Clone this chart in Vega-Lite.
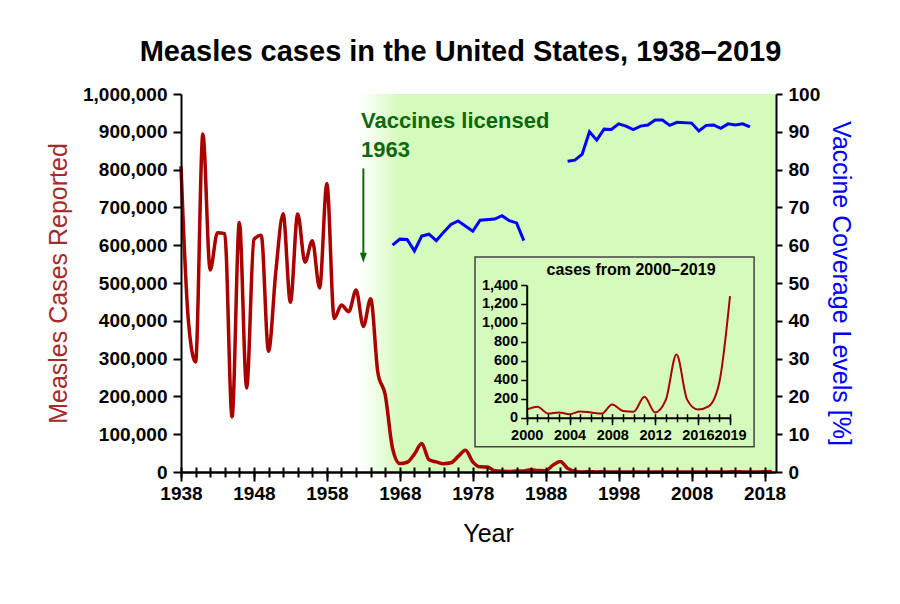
{
  "$schema": "https://vega.github.io/schema/vega-lite/v6.json",
  "width": 595,
  "height": 378,
  "autosize": "none",
  "padding": {"left": 181, "top": 94, "right": 124, "bottom": 132},
  "background": "white",
  "title": {"text": "Measles cases in the United States, 1938–2019", "fontSize": 29, "fontWeight": "bold", "font": "Liberation Sans", "color": "black", "anchor": "middle", "frame": "group", "baseline": "alphabetic", "offset": -5, "dx": -18},
  "config": {
    "view": {"stroke": null},
    "font": "Liberation Sans",
    "axis": {"domainColor": "black", "domainWidth": 2, "tickColor": "black", "tickWidth": 2, "labelColor": "black", "labelFont": "Liberation Sans", "labelFontWeight": "bold", "grid": false, "labelOverlap": false, "labelFlush": false, "labelBound": false, "titleFont": "Liberation Sans"}
  },
  "datasets": {
    "measles": [
      {"Year": 1938, "Cases": 808908}, {"Year": 1939, "Cases": 403317}, {"Year": 1940, "Cases": 291162}, {"Year": 1941, "Cases": 894134},
      {"Year": 1942, "Cases": 534514}, {"Year": 1943, "Cases": 633161}, {"Year": 1944, "Cases": 630291}, {"Year": 1945, "Cases": 146013},
      {"Year": 1946, "Cases": 659843}, {"Year": 1947, "Cases": 222375}, {"Year": 1948, "Cases": 615104}, {"Year": 1949, "Cases": 626281},
      {"Year": 1950, "Cases": 319124}, {"Year": 1951, "Cases": 530118}, {"Year": 1952, "Cases": 683077}, {"Year": 1953, "Cases": 449146},
      {"Year": 1954, "Cases": 682720}, {"Year": 1955, "Cases": 555156}, {"Year": 1956, "Cases": 611936}, {"Year": 1957, "Cases": 486799},
      {"Year": 1958, "Cases": 763094}, {"Year": 1959, "Cases": 406162}, {"Year": 1960, "Cases": 441703}, {"Year": 1961, "Cases": 423919},
      {"Year": 1962, "Cases": 481530}, {"Year": 1963, "Cases": 385156}, {"Year": 1964, "Cases": 458083}, {"Year": 1965, "Cases": 261904},
      {"Year": 1966, "Cases": 204136}, {"Year": 1967, "Cases": 62705}, {"Year": 1968, "Cases": 22231}, {"Year": 1969, "Cases": 25826},
      {"Year": 1970, "Cases": 47351}, {"Year": 1971, "Cases": 75290}, {"Year": 1972, "Cases": 32275}, {"Year": 1973, "Cases": 26690},
      {"Year": 1974, "Cases": 22094}, {"Year": 1975, "Cases": 24374}, {"Year": 1976, "Cases": 41126}, {"Year": 1977, "Cases": 57345},
      {"Year": 1978, "Cases": 26871}, {"Year": 1979, "Cases": 13597}, {"Year": 1980, "Cases": 13506}, {"Year": 1981, "Cases": 3124},
      {"Year": 1982, "Cases": 1714}, {"Year": 1983, "Cases": 1497}, {"Year": 1984, "Cases": 2587}, {"Year": 1985, "Cases": 2822},
      {"Year": 1986, "Cases": 6282}, {"Year": 1987, "Cases": 3655}, {"Year": 1988, "Cases": 3396}, {"Year": 1989, "Cases": 18193},
      {"Year": 1990, "Cases": 27786}, {"Year": 1991, "Cases": 9643}, {"Year": 1992, "Cases": 2237}, {"Year": 1993, "Cases": 312},
      {"Year": 1994, "Cases": 963}, {"Year": 1995, "Cases": 309}, {"Year": 1996, "Cases": 508}, {"Year": 1997, "Cases": 138},
      {"Year": 1998, "Cases": 100}, {"Year": 1999, "Cases": 100}, {"Year": 2000, "Cases": 86}, {"Year": 2001, "Cases": 116},
      {"Year": 2002, "Cases": 44}, {"Year": 2003, "Cases": 56}, {"Year": 2004, "Cases": 37}, {"Year": 2005, "Cases": 66},
      {"Year": 2006, "Cases": 55}, {"Year": 2007, "Cases": 43}, {"Year": 2008, "Cases": 140}, {"Year": 2009, "Cases": 71},
      {"Year": 2010, "Cases": 63}, {"Year": 2011, "Cases": 220}, {"Year": 2012, "Cases": 55}, {"Year": 2013, "Cases": 187},
      {"Year": 2014, "Cases": 667}, {"Year": 2015, "Cases": 188}, {"Year": 2016, "Cases": 86}, {"Year": 2017, "Cases": 120},
      {"Year": 2018, "Cases": 372}, {"Year": 2019, "Cases": 1282}
    ],
    "coverage": [
      {"Year": 1967, "Coverage": 60.0, "Period": "A"}, {"Year": 1968, "Coverage": 61.6, "Period": "A"}, {"Year": 1969, "Coverage": 61.5, "Period": "A"},
      {"Year": 1970, "Coverage": 58.5, "Period": "A"}, {"Year": 1971, "Coverage": 62.4, "Period": "A"}, {"Year": 1972, "Coverage": 62.9, "Period": "A"},
      {"Year": 1973, "Coverage": 61.2, "Period": "A"}, {"Year": 1974, "Coverage": 63.4, "Period": "A"}, {"Year": 1975, "Coverage": 65.5, "Period": "A"},
      {"Year": 1976, "Coverage": 66.4, "Period": "A"}, {"Year": 1978, "Coverage": 63.7, "Period": "A"}, {"Year": 1979, "Coverage": 66.6, "Period": "A"},
      {"Year": 1981, "Coverage": 66.9, "Period": "A"}, {"Year": 1982, "Coverage": 67.8, "Period": "A"}, {"Year": 1983, "Coverage": 66.5, "Period": "A"},
      {"Year": 1984, "Coverage": 65.9, "Period": "A"}, {"Year": 1985, "Coverage": 61.2, "Period": "A"},
      {"Year": 1991, "Coverage": 82.2, "Period": "B"}, {"Year": 1992, "Coverage": 82.5, "Period": "B"}, {"Year": 1993, "Coverage": 84.1, "Period": "B"},
      {"Year": 1994, "Coverage": 90.0, "Period": "B"}, {"Year": 1995, "Coverage": 87.8, "Period": "B"}, {"Year": 1996, "Coverage": 90.7, "Period": "B"},
      {"Year": 1997, "Coverage": 90.6, "Period": "B"}, {"Year": 1998, "Coverage": 92.1, "Period": "B"}, {"Year": 1999, "Coverage": 91.5, "Period": "B"},
      {"Year": 2000, "Coverage": 90.6, "Period": "B"}, {"Year": 2001, "Coverage": 91.5, "Period": "B"}, {"Year": 2002, "Coverage": 91.8, "Period": "B"},
      {"Year": 2003, "Coverage": 93.1, "Period": "B"}, {"Year": 2004, "Coverage": 93.1, "Period": "B"}, {"Year": 2005, "Coverage": 91.7, "Period": "B"},
      {"Year": 2006, "Coverage": 92.5, "Period": "B"}, {"Year": 2008, "Coverage": 92.3, "Period": "B"}, {"Year": 2009, "Coverage": 90.2, "Period": "B"},
      {"Year": 2010, "Coverage": 91.7, "Period": "B"}, {"Year": 2011, "Coverage": 91.8, "Period": "B"}, {"Year": 2012, "Coverage": 90.9, "Period": "B"},
      {"Year": 2013, "Coverage": 92.1, "Period": "B"}, {"Year": 2014, "Coverage": 91.8, "Period": "B"}, {"Year": 2015, "Coverage": 92.1, "Period": "B"},
      {"Year": 2016, "Coverage": 91.3, "Period": "B"}
    ]
  },
  "resolve": {"scale": {"x": "independent", "y": "independent"}, "axis": {"x": "independent", "y": "independent"}},
  "layer": [
    {
      "data": {"values": [{"From": 1962.6, "To": 2019.57}]},
      "mark": {"type": "rect", "color": {"gradient": "linear", "x1": 0, "y1": 0, "x2": 1, "y2": 0, "stops": [{"offset": 0, "color": "#ffffff"}, {"offset": 0.095, "color": "#d4fbbc"}, {"offset": 1, "color": "#d4fbbc"}]}},
      "encoding": {
        "x": {"field": "From", "type": "quantitative", "scale": {"domain": [1938, 2019.57], "nice": false, "zero": false},
          "axis": {"orient": "bottom", "zindex": 1, "values": [1938,1948,1958,1968,1978,1988,1998,2008,2018], "format": "d", "tickSize": 9, "labelFontSize": 19, "labelPadding": 3, "title": null}},
        "x2": {"field": "To"}
      }
    },
    {
      "data": {"values": [{"Left": 1995.17, "Right": 2021.25, "Bottom": -306, "Top": 1695}]},
      "mark": {"type": "rect", "fill": null, "stroke": "#444444", "strokeWidth": 1.5},
      "encoding": {
        "x": {"field": "Left", "type": "quantitative", "scale": {"domain": [2000, 2019], "range": [345.7, 549], "nice": false, "zero": false},
          "axis": {"orient": "top", "offset": -323.7, "zindex": 1, "values": [2000,2001,2002,2003,2004,2005,2006,2007,2008,2009,2010,2011,2012,2013,2014,2015,2016,2017,2018,2019], "tickSize": 4, "tickWidth": 1.5, "labels": false, "domain": false, "title": null}},
        "x2": {"field": "Right"},
        "y": {"field": "Bottom", "type": "quantitative", "scale": {"domain": [0, 1400], "range": [323.7, 191], "nice": false}, "axis": null},
        "y2": {"field": "Top"}
      }
    },
    {
      "data": {"name": "measles"},
      "mark": {"type": "line", "color": "#aa0000", "strokeWidth": 3.5, "interpolate": "monotone"},
      "encoding": {
        "x": {"field": "Year", "type": "quantitative", "scale": {"domain": [1938, 2019.57], "nice": false, "zero": false},
          "axis": {"orient": "bottom", "zindex": 1, "values": [1938,1940,1942,1944,1946,1948,1950,1952,1954,1956,1958,1960,1962,1964,1966,1968,1970,1972,1974,1976,1978,1980,1982,1984,1986,1988,1990,1992,1994,1996,1998,2000,2002,2004,2006,2008,2010,2012,2014,2016,2018],
            "tickSize": 5, "labels": false,
            "title": "Year", "titleFontSize": 25, "titleFontWeight": "normal", "titleColor": "black", "titleX": 307, "titleY": 69, "titleAlign": "center", "titleBaseline": "alphabetic"}},
        "y": {"field": "Cases", "type": "quantitative", "scale": {"domain": [0, 1000000], "nice": false},
          "axis": {"orient": "left", "zindex": 1, "values": [0,100000,200000,300000,400000,500000,600000,700000,800000,900000,1000000], "format": ",d",
            "labelFontSize": 19, "tickSize": 8, "labelPadding": 6,
            "title": "Measles Cases Reported", "titleColor": "#a52a2a", "titleFontSize": 25, "titleFontWeight": "normal", "titleAngle": -90, "titleX": -115, "titleY": 189, "titleAlign": "center", "titleBaseline": "alphabetic"}}
      }
    },
    {
      "data": {"name": "coverage"},
      "mark": {"type": "line", "color": "#0000ff", "strokeWidth": 3},
      "encoding": {
        "x": {"field": "Year", "type": "quantitative", "scale": {"domain": [1938, 2019.57], "nice": false, "zero": false},
          "axis": {"orient": "top", "offset": -378, "zindex": 1, "values": [1938,1940,1942,1944,1946,1948,1950,1952,1954,1956,1958,1960,1962,1964,1966,1968,1970,1972,1974,1976,1978,1980,1982,1984,1986,1988,1990,1992,1994,1996,1998,2000,2002,2004,2006,2008,2010,2012,2014,2016,2018],
            "tickSize": 5, "labels": false, "domain": false, "title": null}},
        "y": {"field": "Coverage", "type": "quantitative", "scale": {"domain": [0, 100], "nice": false},
          "axis": {"orient": "right", "zindex": 1, "values": [0,10,20,30,40,50,60,70,80,90,100], "format": "d", "labelFontSize": 19, "tickSize": 6, "labelPadding": 6,
            "title": "Vaccine Coverage Levels [%]", "titleColor": "#0000ff", "titleFontSize": 25, "titleFontWeight": "normal", "titleAngle": 90, "titleX": 56, "titleY": 189, "titleAlign": "center", "titleBaseline": "alphabetic"}},
        "detail": {"field": "Period"}
      }
    },
    {
      "data": {"values": [{"Year": 1963, "Cases": 909000, "Label": "Vaccines licensed"}, {"Year": 1963, "Cases": 832500, "Label": "1963"}]},
      "mark": {"type": "text", "align": "left", "baseline": "alphabetic", "fontSize": 22, "fontWeight": "bold", "color": "#0d680d", "dx": -2.3},
      "encoding": {
        "x": {"field": "Year", "type": "quantitative", "scale": {"domain": [1938, 2019.57], "nice": false, "zero": false}, "axis": null},
        "y": {"field": "Cases", "type": "quantitative", "scale": {"domain": [0, 1000000], "nice": false}, "axis": null},
        "text": {"field": "Label"}
      }
    },
    {
      "data": {"values": [{"Year": 1963, "From": 803000, "To": 574000}]},
      "mark": {"type": "rule", "color": "#0d680d", "strokeWidth": 2},
      "encoding": {
        "x": {"field": "Year", "type": "quantitative", "scale": {"domain": [1938, 2019.57], "nice": false, "zero": false}, "axis": null},
        "y": {"field": "From", "type": "quantitative", "scale": {"domain": [0, 1000000], "nice": false}, "axis": null},
        "y2": {"field": "To"}
      }
    },
    {
      "data": {"values": [{"Year": 1963, "Cases": 567000}]},
      "mark": {"type": "point", "shape": "M0,1L-0.7,-1L0.7,-1Z", "size": 100, "filled": true, "color": "#0d680d", "opacity": 1},
      "encoding": {
        "x": {"field": "Year", "type": "quantitative", "scale": {"domain": [1938, 2019.57], "nice": false, "zero": false}, "axis": null},
        "y": {"field": "Cases", "type": "quantitative", "scale": {"domain": [0, 1000000], "nice": false}, "axis": null}
      }
    },
    {
      "data": {"values": [{"Year": 2009.75, "Cases": 1505, "Label": "cases from 2000–2019"}]},
      "mark": {"type": "text", "align": "center", "baseline": "alphabetic", "fontSize": 16, "fontWeight": "bold", "color": "black"},
      "encoding": {
        "x": {"field": "Year", "type": "quantitative", "scale": {"domain": [2000, 2019], "range": [345.7, 549], "nice": false, "zero": false},
          "axis": {"orient": "bottom", "offset": -54.3, "zindex": 1, "values": [2000,2004,2008,2012,2016,2019], "format": "d", "tickSize": 7, "tickWidth": 1.5, "labelFontSize": 14.5, "labelPadding": 4, "domain": false, "title": null}},
        "y": {"field": "Cases", "type": "quantitative", "scale": {"domain": [0, 1400], "range": [323.7, 191], "nice": false}, "axis": null},
        "text": {"field": "Label"}
      }
    },
    {
      "data": {"name": "measles"},
      "transform": [{"filter": "datum.Year >= 2000"}],
      "mark": {"type": "line", "color": "#aa0000", "strokeWidth": 2, "interpolate": "monotone"},
      "encoding": {
        "x": {"field": "Year", "type": "quantitative", "scale": {"domain": [2000, 2019], "range": [345.7, 549], "nice": false, "zero": false},
          "axis": {"orient": "bottom", "offset": -54.3, "zindex": 1, "values": [2000,2001,2002,2003,2004,2005,2006,2007,2008,2009,2010,2011,2012,2013,2014,2015,2016,2017,2018,2019],
            "tickSize": 4, "tickWidth": 1.5, "labels": false, "title": null}},
        "y": {"field": "Cases", "type": "quantitative", "scale": {"domain": [0, 1400], "range": [323.7, 191], "nice": false},
          "axis": {"orient": "left", "offset": -345.7, "zindex": 1, "values": [0,200,400,600,800,1000,1200,1400], "format": ",d",
            "labelFontSize": 14.5, "tickSize": 6, "labelPadding": 3, "tickWidth": 1.5, "title": null}}
      }
    }
  ]
}
